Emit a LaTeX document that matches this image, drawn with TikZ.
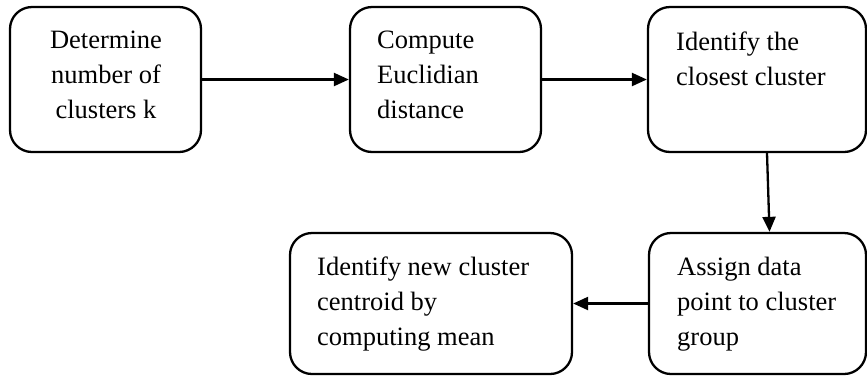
\documentclass[tikz,border=0pt]{standalone}
\usepackage{fontspec}
\setmainfont{Liberation Serif}
\usetikzlibrary{arrows.meta}
\begin{document}
\begin{tikzpicture}[x=1pt,y=-1pt,
  stepbox/.style={draw=black,line width=2.3pt,rounded corners=22pt},
  boxtext/.style={inner sep=0pt,anchor=base west,align=left,
    font=\fontsize{26.5}{35}\selectfont},
  flow/.style={line width=2.3pt,-{Triangle[length=15pt,width=13pt]}}]
\useasboundingbox (0,0) rectangle (867,376);
\begin{scope}
\clip (0,0) rectangle (867,376);
% process boxes
\node[stepbox,minimum width=191pt,minimum height=145pt] (b1) at (105.5,79.5) {};
\node[stepbox,minimum width=191pt,minimum height=145pt] (b2) at (445.5,79.5) {};
\node[stepbox,minimum width=218pt,minimum height=145pt] (b3) at (757,79.5) {};
\node[stepbox,minimum width=217pt,minimum height=141pt] (b4) at (757.5,303.5) {};
\node[stepbox,minimum width=282pt,minimum height=141pt] (b5) at (431,303.5) {};
\end{scope}
% box texts (anchored on the baseline of the last line)
\node[inner sep=0pt,anchor=base,align=center,font=\fontsize{26.5}{35}\selectfont] (t1) at (106,118) {Determine\\number of\\clusters k};
\node[boxtext] (t2) at (377,118) {Compute\\Euclidian\\distance};
\node[boxtext] (t3) at (676,85) {Identify the\\closest cluster};
\node[boxtext] (t4) at (677,345) {Assign data\\point to cluster\\group};
\node[boxtext] (t5) at (317,345) {Identify new cluster\\centroid by\\computing mean};
% connectors
\draw[flow] (b1.east) -- (b2.west);
\draw[flow] (b2.east) -- (b3.west);
\draw[flow] ([xshift=10pt]b3.south) -- ([xshift=12pt]b4.north);
\draw[flow] (b4.west) -- (b5.east);
\end{tikzpicture}
\end{document}
